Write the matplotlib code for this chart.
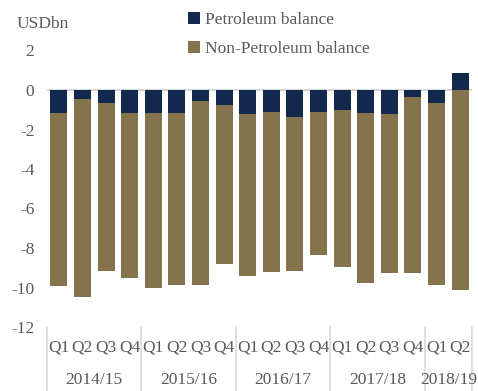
import matplotlib
matplotlib.use("Agg")
import matplotlib.pyplot as plt
import numpy as np

quarters = ["Q1", "Q2", "Q3", "Q4", "Q1", "Q2", "Q3", "Q4", "Q1", "Q2", "Q3", "Q4",
            "Q1", "Q2", "Q3", "Q4", "Q1", "Q2"]
years = ["2014/15", "2015/16", "2016/17", "2017/18", "2018/19"]
year_counts = [4, 4, 4, 4, 2]
petroleum = [-1.15, -0.47, -0.64, -1.18, -1.15, -1.15, -0.54, -0.78, -1.22, -1.11,
             -1.35, -1.10, -1.00, -1.16, -1.22, -0.34, -0.66, 0.84]
non_petroleum = [-8.77, -9.99, -8.52, -8.34, -8.88, -8.74, -9.32, -8.05, -8.21, -8.09,
                 -7.81, -7.27, -7.94, -8.63, -8.03, -8.93, -9.23, -10.13]

navy = "#13284D"
brown = "#85734E"
grey_txt = "#595959"

plt.rcParams["font.family"] = ["Liberation Serif", "DejaVu Serif"]

fig = plt.figure(figsize=(4.78, 3.91), dpi=100)
ax = fig.add_axes([47 / 478, 1 - 327 / 391, 425 / 478, (327 - 50.5) / 391])

x = np.arange(len(quarters))
pet = np.array(petroleum)
non = np.array(non_petroleum)
non_bottom = np.where(pet < 0, pet, 0.0)

ax.bar(x, pet, width=0.72, color=navy, label="Petroleum balance", zorder=2)
ax.bar(x, non, bottom=non_bottom, width=0.72, color=brown, label="Non-Petroleum balance", zorder=2)
ax.axhline(0, color="#D9D9D9", lw=1.5, zorder=1)

ax.set_xlim(-0.5, len(quarters) - 0.5)
ax.set_ylim(-12, 2)
ax.set_yticks(np.arange(-12, 3, 2))
ax.set_yticklabels([str(v) for v in np.arange(-12, 3, 2)])
ax.tick_params(axis="y", length=0, pad=9, labelsize=12.5, labelcolor=grey_txt)
ax.set_xticks(x)
ax.set_xticklabels(quarters)
ax.tick_params(axis="x", length=0, pad=9, labelsize=12.5, labelcolor=grey_txt)
for s in ax.spines.values():
    s.set_visible(False)

# year labels and separators
start = 0
trans = ax.get_xaxis_transform()
bounds = [0]
for yr, n in zip(years, year_counts):
    center = start + (n - 1) / 2
    ax.text(center, -0.192, yr, transform=trans, ha="center", va="center",
            fontsize=12.5, color=grey_txt)
    start += n
    bounds.append(start)
for b in bounds:
    ax.plot([b - 0.5, b - 0.5], [0, -0.24], transform=trans, color="#D9D9D9",
            lw=1.2, clip_on=False)

ax.text(17 / 478, 1 - 24 / 391, "USDbn", transform=fig.transFigure, fontsize=12.5,
        color=grey_txt, ha="left", va="center")

leg = fig.legend(loc="upper left", bbox_to_anchor=(176 / 478, 1 - 0 / 391), frameon=False,
                 fontsize=12.5, handlelength=0.7, handleheight=0.7, handletextpad=0.25,
                 labelspacing=0.75, borderpad=0.2)
for t in leg.get_texts():
    t.set_color(grey_txt)

fig.savefig("out.png", dpi=100)
